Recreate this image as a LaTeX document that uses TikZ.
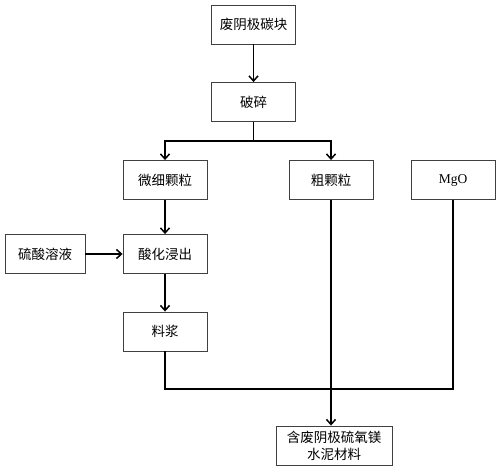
\documentclass[tikz,border=0pt]{standalone}
\usepackage{fontspec}
\newfontfamily\cjk{Noto Sans CJK SC}
\newfontfamily\lat{Liberation Serif}
\usetikzlibrary{arrows.meta}
\begin{document}
\begin{tikzpicture}
  [x=1pt,y=-1pt,>={Straight Barb[length=5pt,width=9pt]},
   every node/.style={draw=black!75,line width=.9pt,minimum width=84pt,minimum height=39pt,inner sep=2pt,font=\cjk\fontsize{13.5}{17}\selectfont},
   link/.style={line width=1.5pt}]
  \useasboundingbox (0,0) rectangle (500,472);
  \node (n1) at (253.5,24.5) {废阴极碳块};
  \node (n2) at (253.5,102) {破碎};
  \node (fine) at (165,180) {微细颗粒};
  \node (coarse) at (331,180) {粗颗粒};
  \node (mgo) at (453,180) {\lat MgO};
  \node[minimum width=80pt] (acid) at (45,254) {硫酸溶液};
  \node (leach) at (165,254) {酸化浸出};
  \node (slurry) at (165,331.5) {料浆};
  \node[minimum width=116pt,align=center] (final) at (334,445.5) {含废阴极硫氧镁\\水泥材料};
  \coordinate (split) at (253.5,141);
  \coordinate (merge) at (331,389);

  \foreach \from/\to in {n1/n2,fine/leach,acid/leach,leach/slurry}
    \draw[link,->] (\from) -- (\to);
  \draw[link] (n2) -- (split);
  \draw[link,->] (split) -| (fine);
  \draw[link,->] (split) -| (coarse);
  \draw[link] (slurry) |- (merge) -| (mgo);
  \draw[link,->] (coarse) -- (coarse |- final.north);

\end{tikzpicture}
\end{document}
